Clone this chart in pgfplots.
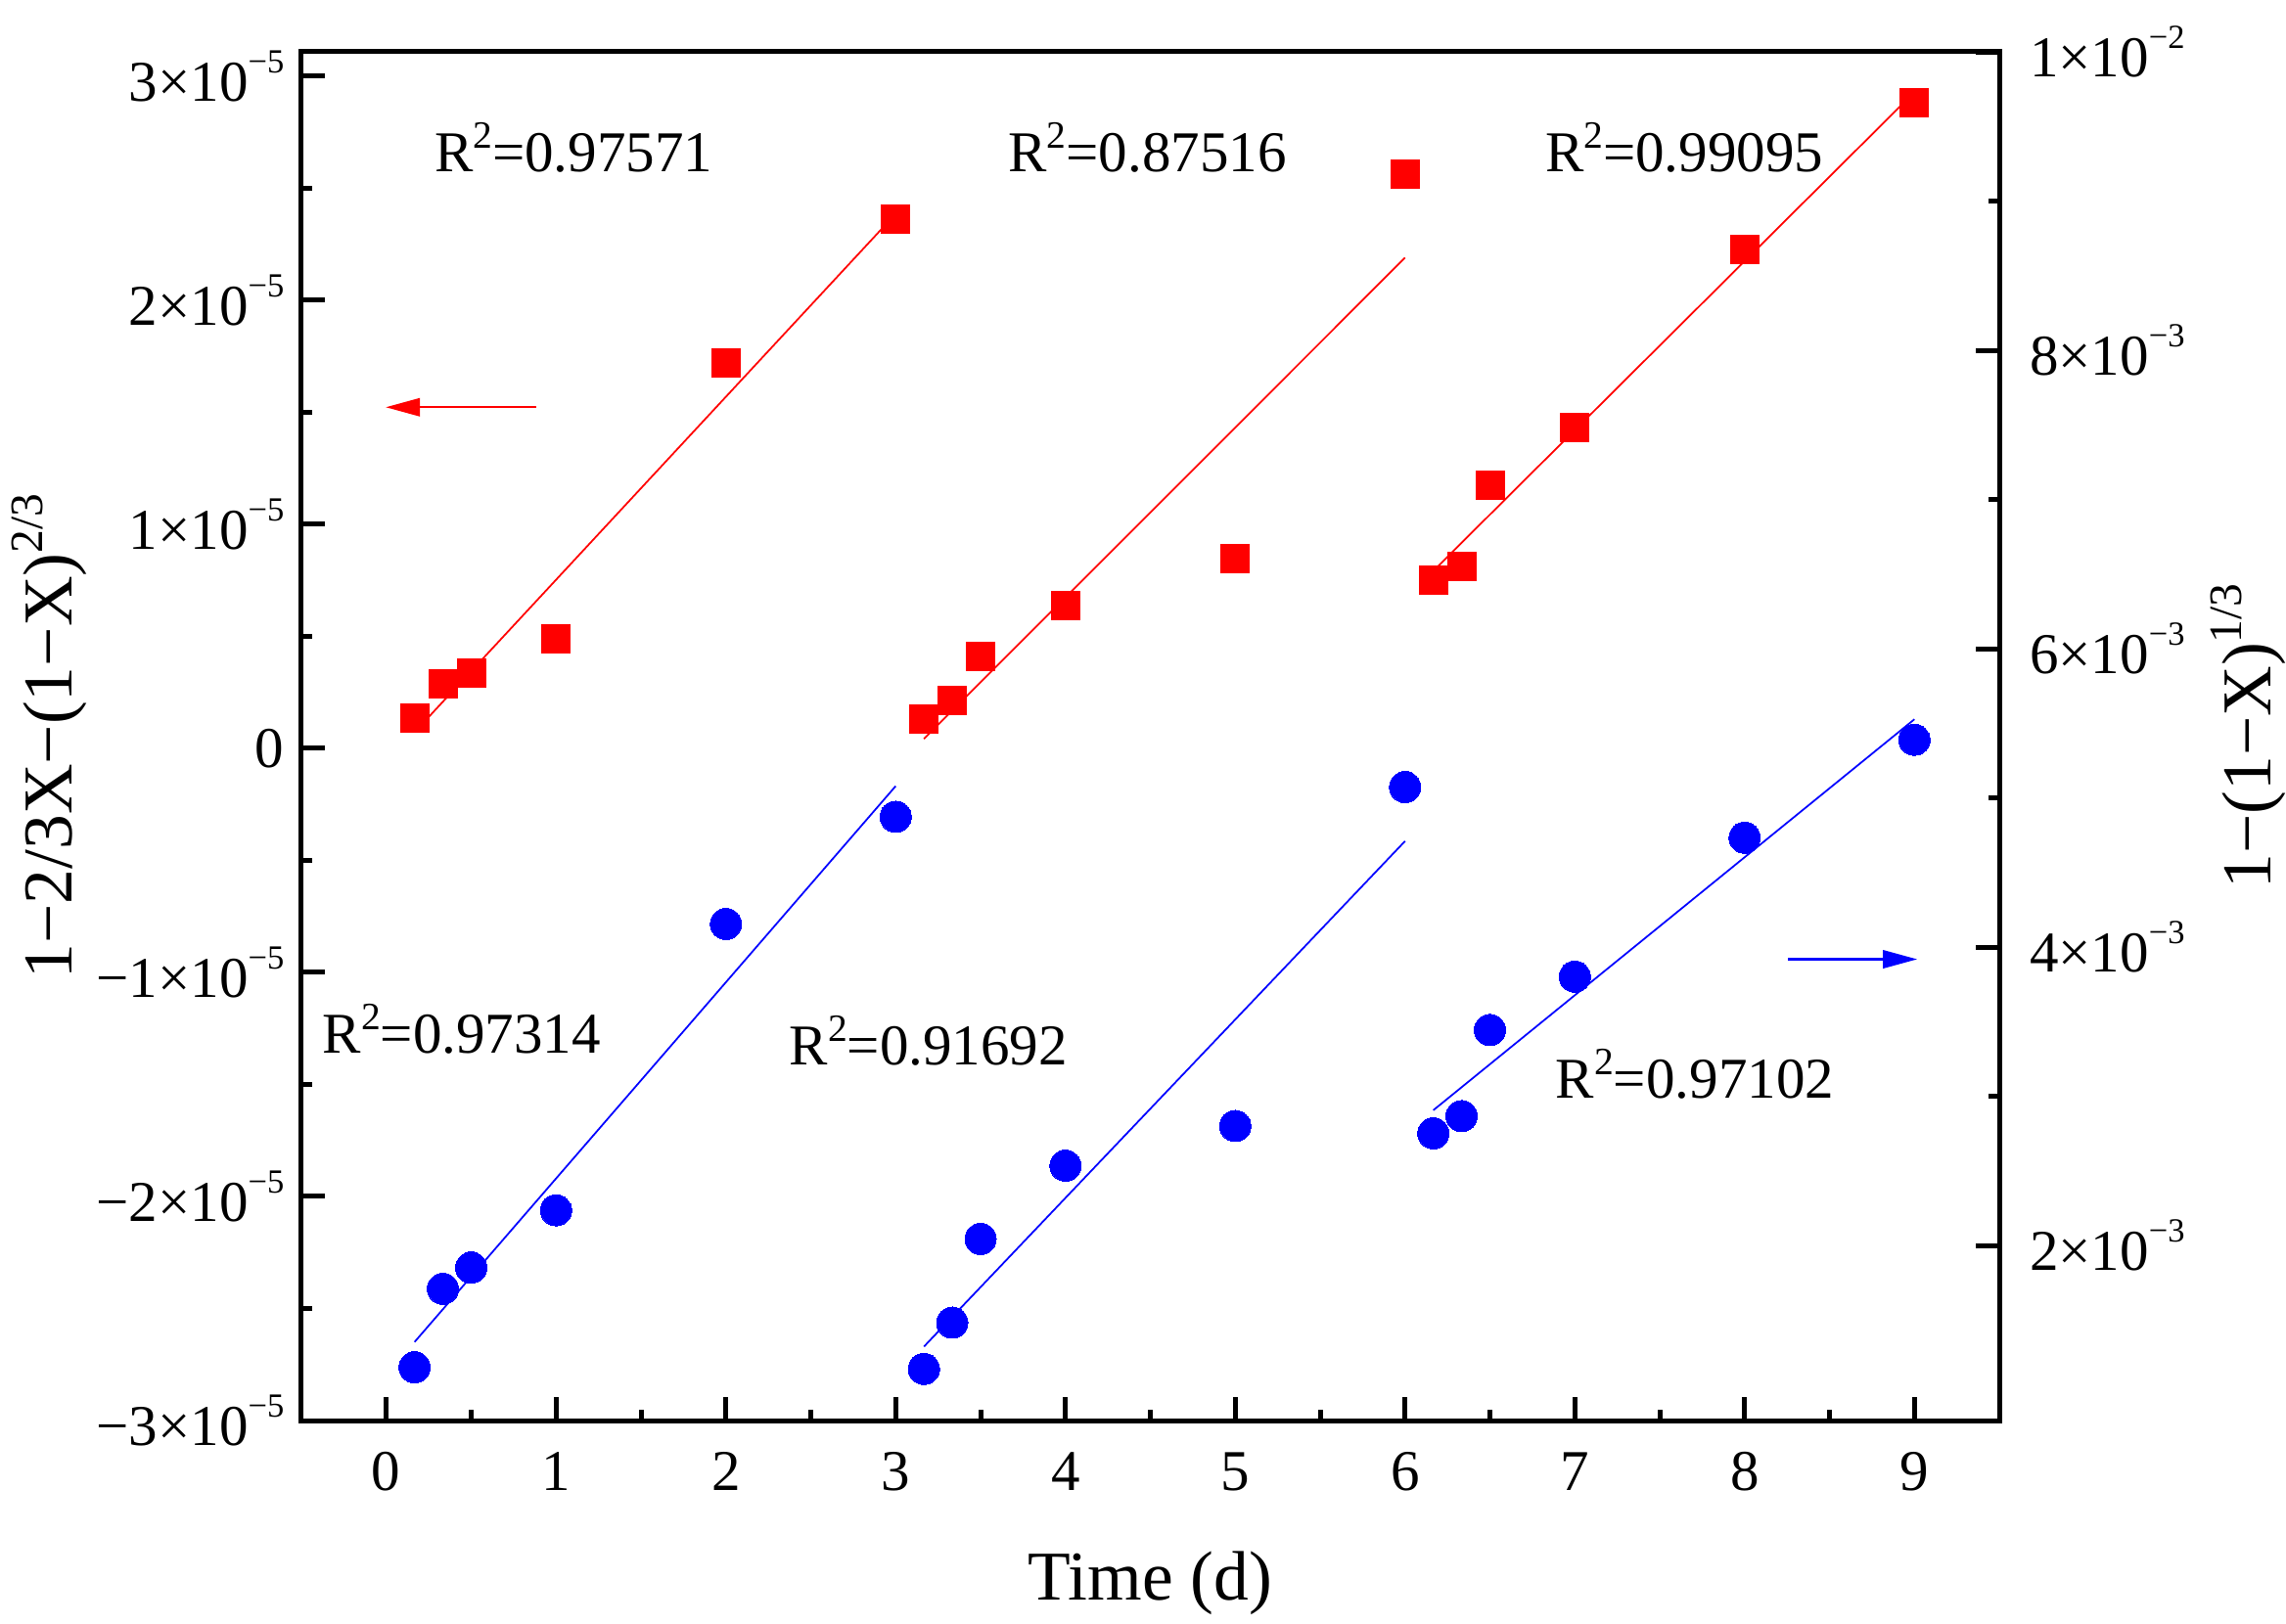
\documentclass[border=0pt]{standalone}
\usepackage{fontspec}
\setmainfont{Liberation Serif}
\usepackage{pgfplots}
\pgfplotsset{compat=1.18}
\usetikzlibrary{arrows.meta}

% raised small figures (exponents, R^2, label powers)
\newcommand\tsup[1]{\raisebox{0.49em}{\fontsize{6.9}{7}\selectfont #1}}
\newcommand\rsup[1]{\raisebox{0.41em}{\fontsize{7.9}{8}\selectfont #1}}
\newcommand\lsup[1]{\raisebox{0.42em}{\fontsize{9.5}{10}\selectfont #1}}

\begin{document}
\begin{tikzpicture}
\pgfplotsset{
  common/.style={
    width=347pt, height=279.8pt, scale only axis,
    xmin=-0.5, xmax=9.5,
    tick align=inside,
    major tick length=4.8pt, minor tick length=2.2pt,
    tick style={black, line width=1pt},
    axis line style={line width=1pt},
    ticklabel style={font=\fontsize{11.8}{14}\selectfont},
    label style={font=\fontsize{14.3}{17}\selectfont},
    scaled y ticks=false,
    clip=false,
  },
  fitline/.style={line width=0.35pt, no marks},
}

% left axis: 1-2/3X-(1-X)^(2/3)
\begin{axis}[common,
  ymin=-3e-5, ymax=3.108e-5,
  xtick={0,1,2,3,4,5,6,7,8,9},
  xticklabels={0,1,2,3,4,5,6,7,8,9},
  minor x tick num=1, xtick pos=bottom,
  xticklabel style={yshift=-3pt},
  ytick={-3e-5,-2e-5,-1e-5,0,1e-5,2e-5,3e-5},
  yticklabels={−3×10\tsup{−5},−2×10\tsup{−5},−1×10\tsup{−5},0,1×10\tsup{−5},2×10\tsup{−5},3×10\tsup{−5}},
  minor y tick num=1, ytick pos=left,
  xlabel={Time (d)},
  xlabel style={at={(axis description cs:0.5,-0.1315)}, anchor=base},
  ylabel={1−2/3X−(1−X)\lsup{2/3}},
  ylabel style={at={(axis description cs:-0.1354,0.5)}, anchor=base},
]
\addplot[red, fitline] coordinates {(0.1667,7.19e-7) (3,2.385e-5)};
\addplot[red, fitline] coordinates {(3.1667,4.19e-7) (6,2.1893e-5)};
\addplot[red, fitline] coordinates {(6.1667,7.917e-6) (9,2.928e-5)};
\addplot[only marks, mark=square*, mark size=2.9pt, mark options={draw=red, fill=red, line width=0pt}]
  coordinates {
  (0.1667,1.36e-6) (0.3333,2.88e-6) (0.5,3.37e-6) (1,4.89e-6) (2,1.718e-5) (3,2.362e-5)
  (3.1667,1.31e-6) (3.3333,2.14e-6) (3.5,4.10e-6) (4,6.35e-6) (5,8.46e-6) (6,2.563e-5)
  (6.1667,7.49e-6) (6.3333,8.12e-6) (6.5,1.175e-5) (7,1.431e-5) (8,2.224e-5) (9,2.883e-5)
  };

\draw[red, line width=0.45pt, -{Triangle[length=7pt,width=3.7pt]}]
  (axis cs:0.882,1.522e-5) -- (axis cs:-0.003,1.522e-5);
\draw[blue, line width=0.45pt, -{Triangle[length=7pt,width=3.7pt]}]
  (axis cs:8.256,-0.9415e-5) -- (axis cs:9.016,-0.9415e-5);

\begin{scope}[every node/.style={anchor=base, inner sep=0pt, font=\fontsize{11.8}{14}\selectfont}]
\node at (axis cs:1.103,2.571e-5) {R\rsup{2}=0.97571};
\node at (axis cs:4.483,2.571e-5) {R\rsup{2}=0.87516};
\node at (axis cs:7.645,2.571e-5) {R\rsup{2}=0.99095};
\node at (axis cs:0.444,-1.360e-5) {R\rsup{2}=0.97314};
\node at (axis cs:3.194,-1.412e-5) {R\rsup{2}=0.91692};
\node at (axis cs:7.707,-1.561e-5) {R\rsup{2}=0.97102};
\end{scope}
\end{axis}

% right axis: 1-(1-X)^(1/3)
\begin{axis}[common,
  axis x line=none, axis y line*=right,
  ymin=0.828e-3, ymax=1e-2,
  ytick={2e-3,4e-3,6e-3,8e-3,1e-2},
  yticklabels={2×10\tsup{−3},4×10\tsup{−3},6×10\tsup{−3},8×10\tsup{−3},1×10\tsup{−2}},
  minor y tick num=1,
  yticklabel style={xshift=2.7pt},
  ylabel={1−(1−X)\lsup{1/3}},
  ylabel style={at={(axis description cs:1.1597,0.5)}, anchor=base},
]
\addplot[blue, fitline] coordinates {(0.1667,1.3546e-3) (3,5.0796e-3)};
\addplot[blue, fitline] coordinates {(3.1667,1.3235e-3) (6,4.7108e-3)};
\addplot[blue, fitline] coordinates {(6.1667,2.9076e-3) (9,5.5273e-3)};
\addplot[only marks, mark=*, mark size=3.2pt, mark options={draw=blue, fill=blue, line width=0pt}]
  coordinates {
  (0.1667,1.185e-3) (0.3333,1.711e-3) (0.5,1.853e-3) (1,2.237e-3) (2,4.156e-3) (3,4.874e-3)
  (3.1667,1.174e-3) (3.3333,1.484e-3) (3.5,2.045e-3) (4,2.536e-3) (5,2.802e-3) (6,5.073e-3)
  (6.1667,2.753e-3) (6.3333,2.868e-3) (6.5,3.445e-3) (7,3.803e-3) (8,4.734e-3) (9,5.390e-3)
  };
\end{axis}

\pgfresetboundingbox
\path (-61.6pt,-41.4pt) rectangle (405.6pt,290.4pt);
\end{tikzpicture}
\end{document}
